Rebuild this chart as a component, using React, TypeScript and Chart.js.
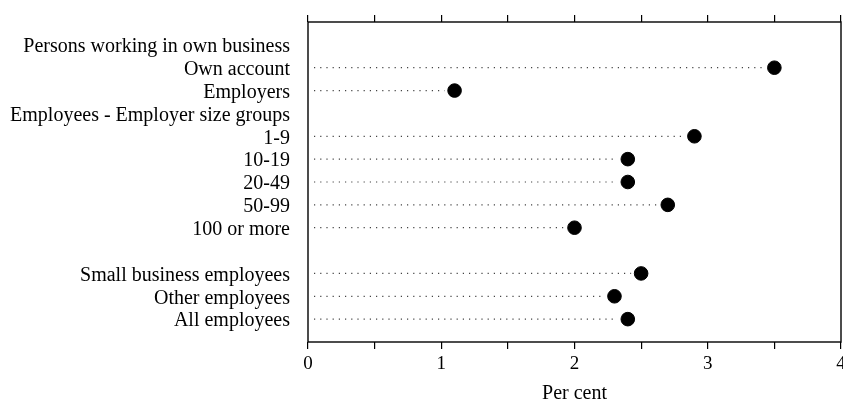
import React, { useEffect, useRef } from 'react';
import { Chart, registerables } from 'chart.js';

Chart.register(...registerables);

const categories = [
  'Persons working in own business',
  'Own account',
  'Employers',
  'Employees - Employer size groups',
  '1-9',
  '10-19',
  '20-49',
  '50-99',
  '100 or more',
  '',
  'Small business employees',
  'Other employees',
  'All employees',
];
const values: (number | null)[] = [null, 3.5, 1.1, null, 2.9, 2.4, 2.4, 2.7, 2.0, null, 2.5, 2.3, 2.4];
const xMin = 0;
const xMax = 4;
const xTitle = 'Per cent';

const FONT = "'Liberation Serif', 'DejaVu Serif', serif";

const framePlugin = {
  id: 'frame',
  beforeDatasetsDraw(chart: any) {
    const { ctx, scales } = chart;
    const meta = chart.getDatasetMeta(0);
    const x0 = scales.x.getPixelForValue(0);
    ctx.save();
    ctx.strokeStyle = '#444';
    ctx.lineWidth = 1.2;
    ctx.setLineDash([1.2, 5]);
    meta.data.forEach((el: any, i: number) => {
      if (values[i] == null) return;
      ctx.beginPath();
      ctx.moveTo(x0 + 6, el.y);
      ctx.lineTo(el.x - 10, el.y);
      ctx.stroke();
    });
    ctx.restore();
  },
  afterDraw(chart: any) {
    const { ctx, chartArea } = chart;
    ctx.save();
    ctx.strokeStyle = '#000';
    ctx.lineWidth = 1.4;
    ctx.strokeRect(chartArea.left, chartArea.top, chartArea.right - chartArea.left, chartArea.bottom - chartArea.top);
    ctx.restore();
  },
};

const noPad = (s: any) => {
  s.paddingLeft = 0;
  s.paddingRight = 0;
  s.paddingTop = 0;
  s.paddingBottom = 0;
};

export default function App() {
  const ref = useRef<HTMLCanvasElement>(null);
  useEffect(() => {
    document.body.style.margin = '0';
    const chart = new Chart(ref.current!, {
      type: 'scatter',
      data: {
        datasets: [
          {
            data: values.map((v, i) => ({ x: v as any, y: i })),
            backgroundColor: '#000',
            borderColor: '#000',
            pointRadius: 6.8,
            pointHoverRadius: 6.8,
          },
        ],
      },
      options: {
        animation: false,
        responsive: false,
        layout: { autoPadding: false, padding: { left: 0, right: 2, top: 0, bottom: 0 } },
        plugins: { legend: { display: false }, tooltip: { enabled: false } },
        scales: {
          x: {
            type: 'linear',
            position: 'bottom',
            min: xMin,
            max: xMax,
            border: { display: false },
            grid: { drawOnChartArea: false, drawTicks: true, tickLength: 7, color: '#000', lineWidth: 1.2 },
            ticks: {
              stepSize: 0.5,
              autoSkip: false,
              maxRotation: 0,
              padding: 4,
              color: '#000',
              font: { family: FONT, size: 19 },
              callback: (v: any) => (Number.isInteger(v) ? String(v) : ''),
            },
            title: { display: true, text: xTitle, color: '#000', font: { family: FONT, size: 20 }, padding: { top: 8, bottom: -5 } },
            afterFit: (s: any) => { s.height = 59; noPad(s); },
          },
          x2: {
            type: 'linear',
            position: 'top',
            min: xMin,
            max: xMax,
            border: { display: false },
            grid: { drawOnChartArea: false, drawTicks: true, tickLength: 7, color: '#000', lineWidth: 1.2 },
            ticks: { stepSize: 0.5, display: false },
            afterFit: (s: any) => { s.height = 22; noPad(s); },
          },
          y: {
            type: 'linear',
            reverse: true,
            min: -1,
            max: categories.length,
            border: { display: false },
            grid: { display: false, drawTicks: false },
            ticks: {
              stepSize: 1,
              autoSkip: false,
              padding: 18,
              labelOffset: 2,
              color: '#000',
              font: { family: FONT, size: 20 },
              callback: (v: any) => (Number.isInteger(v) && v >= 0 && v < categories.length ? categories[v] : ''),
            },
            afterFit: (s: any) => { s.width = 308; noPad(s); },
          },
        },
      },
      plugins: [framePlugin],
    } as any);
    return () => chart.destroy();
  }, []);
  return (
    <div style={{ width: 843, height: 401, background: '#fff' }}>
      <canvas ref={ref} width={843} height={401} />
    </div>
  );
}
